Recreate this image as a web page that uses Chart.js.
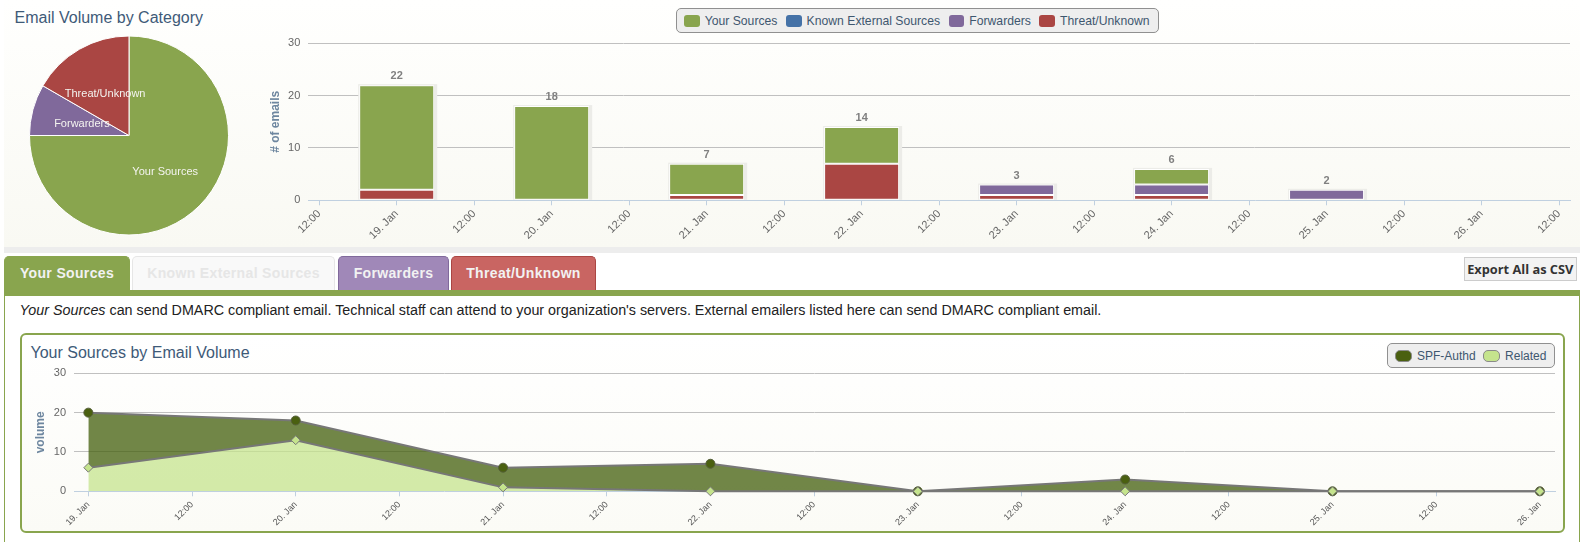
<!DOCTYPE html>
<html>
<head>
<meta charset="utf-8">
<script src="https://cdn.jsdelivr.net/npm/chart.js@4"></script>
<style>
html,body{margin:0;padding:0;background:#fff;width:1582px;height:542px;overflow:hidden;font-family:"Liberation Sans",Arial,sans-serif}
.abs{position:absolute;box-sizing:border-box}
canvas{position:absolute;display:block}
#top{left:4px;top:0;width:1576px;height:247px;background:linear-gradient(#fffffe,#f9f9f3)}
#band{left:4px;top:247px;width:1576px;height:5.5px;background:#ededed}
.title{position:absolute;font-size:16px;line-height:20px;color:#3e5a78;white-space:nowrap}
.legend{display:flex;align-items:center;background:#eee;border:1px solid #909090;border-radius:5px;font-size:12px;color:#3e576f;white-space:nowrap}
.legend i{display:block;height:12px;border-radius:3px;margin-right:5px}
.tab{top:256px;height:34px;border-radius:5px 5px 0 0;font-weight:bold;font-size:14px;letter-spacing:.35px;line-height:32px;text-align:center;color:#f2f2f2;border:1px solid;border-bottom:0;white-space:nowrap}
#panel{left:4px;top:290px;width:1576px;height:260px;border:1px solid #89a54e;border-top:6px solid #89a54e;background:#fff}
#desc{left:19.6px;top:301px;font-size:14.32px;line-height:18px;color:#222;white-space:nowrap}
#card{left:20px;top:333px;width:1545px;height:199.5px;border:2px solid #89a54e;border-radius:6px;background:linear-gradient(#fff,#fbfbf6)}
#export{left:1464px;top:257px;width:112.5px;height:24px;background:#f3f3f3;border:1px solid #ccc;font:bold 12.8px "Open Sans",sans-serif;line-height:22px;text-align:center;color:#333;white-space:nowrap}
</style>
</head>
<body>
<div id="top" class="abs"></div>
<div id="band" class="abs"></div>
<div class="title" style="left:14.5px;top:8px">Email Volume by Category</div>
<div id="legendTop" class="abs legend" style="left:676px;top:8px;width:483px;height:25px;padding-left:7px;font-size:12.2px"></div>
<canvas id="pie" style="left:29px;top:35px" width="200" height="201"></canvas>
<canvas id="bars" style="left:262px;top:28px" width="1318" height="219"></canvas>

<div id="panel" class="abs"></div>
<div class="abs tab" style="left:4px;width:126px;background:#89a54e;border-color:#89a54e">Your Sources</div>
<div class="abs tab" style="left:132px;width:203px;background:#f9f9f9;border-color:#e6e6e6;color:#e6e6e6">Known External Sources</div>
<div class="abs tab" style="left:338px;width:111px;background:#a088b8;border-color:#80699b">Forwarders</div>
<div class="abs tab" style="left:451px;width:145px;background:#c96562;border-color:#aa4643">Threat/Unknown</div>
<div id="export" class="abs">Export All as CSV</div>
<div id="desc" class="abs"><em>Your Sources</em> can send DMARC compliant email. Technical staff can attend to your organization's servers. External emailers listed here can send DMARC compliant email.</div>
<div id="card" class="abs"></div>
<div class="title" style="left:30.5px;top:343px">Your Sources by Email Volume</div>
<div id="legendBottom" class="abs legend" style="left:1387px;top:343px;width:168px;height:25px;padding-left:7px"></div>
<canvas id="area" style="left:28px;top:358px" width="1535" height="172"></canvas>

<script>
// ---- data ----
const categories = ['Your Sources', 'Known External Sources', 'Forwarders', 'Threat/Unknown'];
const categoryTotals = [54, 0, 6, 12];
const dayHours = [0, 24, 48, 72, 96, 120, 144, 168];
const yourSources = [20, 18, 6, 7, 0, 3, 0, 0];
const knownExternal = [0, 0, 0, 0, 0, 0, 0, 0];
const forwarders = [0, 0, 0, 0, 2, 2, 2, 0];
const threatUnknown = [2, 0, 1, 7, 1, 1, 0, 0];
const spfAuthd = [14, 5, 5, 7, 0, 3, 0, 0];
const related = [6, 13, 1, 0, 0, 0, 0, 0];
const barTickHours = [-12, 0, 12, 24, 36, 48, 60, 72, 84, 96, 108, 120, 132, 144, 156, 168, 180];
const barTickLabels = ['12:00', '19. Jan', '12:00', '20. Jan', '12:00', '21. Jan', '12:00', '22. Jan', '12:00', '23. Jan', '12:00', '24. Jan', '12:00', '25. Jan', '12:00', '26. Jan', '12:00'];
const areaTickHours = [0, 12, 24, 36, 48, 60, 72, 84, 96, 108, 120, 132, 144, 156, 168];
const areaTickLabels = ['19. Jan', '12:00', '20. Jan', '12:00', '21. Jan', '12:00', '22. Jan', '12:00', '23. Jan', '12:00', '24. Jan', '12:00', '25. Jan', '12:00', '26. Jan'];
const yTicks = [0, 10, 20, 30];
const colors = ['#89a54e', '#4572a7', '#80699b', '#aa4643'];
const areaNames = ['SPF-Authd', 'Related'];
const areaColors = ['#4a6010', '#c5e48d'];

// ---- html legends ----
function legend(id, names, cols, widths, gaps, outline) {
  const box = document.getElementById(id);
  names.forEach((n, i) => {
    const s = document.createElement('i');
    s.style.background = cols[i];
    s.style.width = widths + 'px';
    if (outline) { s.style.boxSizing = 'border-box'; s.style.border = '1px solid #8a8a8a'; s.style.borderRadius = '5px'; }
    const t = document.createElement('span');
    t.textContent = n;
    t.style.marginRight = gaps + 'px';
    box.append(s, t);
  });
}
legend('legendTop', categories, colors, 16, 8.5);
legend('legendBottom', areaNames, areaColors, 17, 7.5, true);

Chart.defaults.font.family = '"Liberation Sans", Arial, sans-serif';
Chart.defaults.animation = false;
Chart.defaults.responsive = false;
Chart.defaults.devicePixelRatio = 1;
Chart.defaults.plugins.legend.display = false;
Chart.defaults.plugins.tooltip.enabled = false;

// ---- pie ----
const pieLabels = {
  id: 'pieLabels',
  afterDatasetsDraw(chart) {
    const { ctx } = chart;
    ctx.save();
    ctx.font = '11px "Liberation Sans"';
    ctx.fillStyle = '#f4f4f0';
    ctx.textAlign = 'center';
    ctx.textBaseline = 'middle';
    chart.getDatasetMeta(0).data.forEach((arc, i) => {
      if (!categoryTotals[i]) return;
      const p = arc.tooltipPosition();
      ctx.fillText(categories[i], p.x + 1, p.y + 1.5);
    });
    ctx.restore();
  }
};
new Chart(document.getElementById('pie'), {
  type: 'pie',
  data: { labels: categories, datasets: [{ data: categoryTotals, backgroundColor: colors, borderColor: '#fff', borderWidth: 1 }] },
  options: { layout: { padding: 0 } },
  plugins: [pieLabels]
});

// ---- shared helpers ----
const points = vals => dayHours.map((x, i) => ({ x, y: vals[i] }));
function axes(cfg) {
  return {
    x: {
      type: 'linear', min: cfg.xMin, max: cfg.xMax, stacked: true, offset: false,
      afterBuildTicks(s) { s.ticks = cfg.tickHours.map(value => ({ value })); },
      afterFit(s) { s.height = cfg.xHeight; },
      grid: { offset: false, drawOnChartArea: false, drawTicks: true, tickLength: 5, tickColor: '#c0d0e0', tickWidth: 1 },
      border: { color: '#c0d0e0', width: 1 },
      ticks: {
        autoSkip: false, minRotation: 45, maxRotation: 45, padding: cfg.xPad,
        color: cfg.xColor, font: { size: cfg.xFont },
        callback(v) { return cfg.tickLabels[cfg.tickHours.indexOf(v)]; }
      }
    },
    y: {
      min: 0, max: 30, stacked: true,
      afterBuildTicks(s) { s.ticks = yTicks.map(value => ({ value })); },
      afterFit(s) { s.width = cfg.yWidth; },
      grid: { color: c => c.tick.value === 0 ? 'rgba(0,0,0,0)' : '#c0c0c0', drawTicks: false },
      border: { display: false },
      ticks: { color: '#666', padding: 8, font: { size: 11 } },
      title: { display: true, text: cfg.yTitle, color: '#6d869f', font: { size: 12, weight: 'bold' }, padding: { top: cfg.yTitlePad, bottom: 0 } }
    }
  };
}

// ---- stacked bars ----
const totals = dayHours.map((_, i) => yourSources[i] + knownExternal[i] + forwarders[i] + threatUnknown[i]);
const stackTotals = {
  id: 'stackTotals',
  afterDraw(chart) {
    const { ctx, scales } = chart;
    ctx.save();
    ctx.font = 'bold 11px "Liberation Sans"';
    ctx.fillStyle = '#808080';
    ctx.textAlign = 'center';
    ctx.textBaseline = 'bottom';
    totals.forEach((t, i) => {
      if (t) ctx.fillText(t, scales.x.getPixelForValue(dayHours[i]), scales.y.getPixelForValue(t) - 3.5);
    });
    ctx.restore();
  }
};
const barShadow = {
  id: 'barShadow',
  beforeDatasetsDraw(chart) {
    const { ctx } = chart;
    ctx.save();
    ctx.fillStyle = '#ecece8';
    chart.getSortedVisibleDatasetMetas().forEach(meta => meta.data.forEach(bar => {
      const p = bar.getProps(['x', 'y', 'base', 'width']);
      if (Math.abs(p.base - p.y) < 0.5) return;
      ctx.fillRect(p.x - p.width / 2 - 1, Math.min(p.y, p.base) - 1, p.width + 4, Math.abs(p.base - p.y) + 1);
    }));
    ctx.restore();
  }
};
const barSet = (name, vals, color) => ({
  label: name, data: points(vals), backgroundColor: color, borderColor: '#fff',
  borderWidth: c => (c.raw && c.raw.y ? 1 : 0), borderSkipped: false, barThickness: 75, inflateAmount: 0
});
new Chart(document.getElementById('bars'), {
  type: 'bar',
  data: { datasets: [
    barSet(categories[3], threatUnknown, colors[3]),
    barSet(categories[2], forwarders, colors[2]),
    barSet(categories[1], knownExternal, colors[1]),
    barSet(categories[0], yourSources, colors[0])
  ] },
  options: {
    layout: { padding: { top: 15.3, right: 10, left: 0, bottom: 0 } },
    scales: axes({ xMin: -13.69, xMax: 181.7, tickHours: barTickHours, tickLabels: barTickLabels, xHeight: 46.7, xPad: 2, xFont: 11, xColor: '#666', yWidth: 46.3, yTitle: '# of emails', yTitlePad: 6 })
  },
  plugins: [barShadow, stackTotals]
});

// ---- stacked area ----
new Chart(document.getElementById('area'), {
  type: 'line',
  data: { datasets: [
    { label: areaNames[1], data: points(related), fill: 'origin', tension: 0, clip: false,
      backgroundColor: 'rgba(197,228,141,0.75)', borderColor: '#777', borderWidth: 2,
      pointStyle: 'rectRot', pointRadius: 4.5, pointBackgroundColor: areaColors[1], pointBorderColor: '#777', pointBorderWidth: 1 },
    { label: areaNames[0], data: points(spfAuthd), fill: '-1', tension: 0, clip: false,
      backgroundColor: 'rgba(68,96,14,0.76)', borderColor: '#777', borderWidth: 2,
      pointStyle: 'circle', pointRadius: 4.5, pointBackgroundColor: areaColors[0], pointBorderColor: '#555f3a', pointBorderWidth: 1 }
  ] },
  options: {
    layout: { padding: { top: 15.3, right: 8, left: 0, bottom: 0 } },
    scales: axes({ xMin: -1.66, xMax: 169.75, tickHours: areaTickHours, tickLabels: areaTickLabels, xHeight: 38.7, xPad: 3, xFont: 9, xColor: '#555', yWidth: 46, yTitle: 'volume', yTitlePad: 5 })
  }
});
</script>
</body>
</html>
